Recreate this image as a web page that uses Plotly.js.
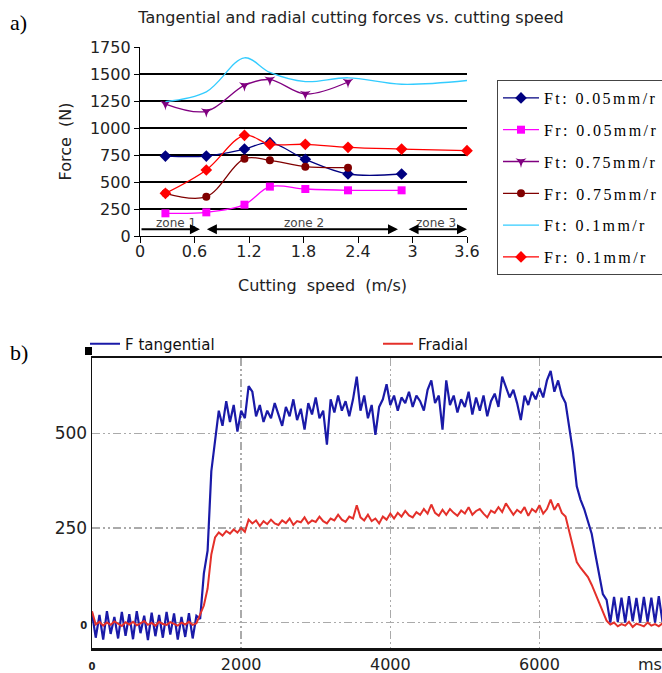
<!DOCTYPE html>
<html><head><meta charset="utf-8">
<script src="https://cdn.plot.ly/plotly-3.0.1.min.js"></script>
<style>
html,body{margin:0;padding:0;background:#fff}
#chart{width:662px;height:673px}
text.legendtext[style*="Liberation Serif"]{letter-spacing:2.4px}
</style>
</head><body><div id="chart"></div>
<script>
// ---------- a) forces vs cutting speed ----------
const speed7 = [0.28, 0.73, 1.15, 1.43, 1.82, 2.29, 2.88];
const speed6 = [0.28, 0.73, 1.15, 1.43, 1.82, 2.29];
const speed8 = [0.28, 0.73, 1.15, 1.43, 1.82, 2.29, 2.88, 3.6];
const ft005 = [740, 740, 805, 864, 710, 574, 574];
const fr005 = [210, 219, 290, 457, 435, 423, 423];
const ft075 = [1222, 1154, 1395, 1448, 1315, 1426];
const fr075 = [395, 364, 716, 701, 642, 633];
const ft01  = [1245, 1335, 1650, 1515, 1430, 1465, 1405, 1440];
const fr01  = [395, 611, 932, 849, 849, 821, 805, 790];
const seriesNames = ["Ft: 0.05mm/r", "Fr: 0.05mm/r", "Ft: 0.75mm/r", "Fr: 0.75mm/r", "Ft: 0.1mm/r", "Fr: 0.1mm/r"];
const speedTicks = [0, 0.6, 1.2, 1.8, 2.4, 3, 3.6];
const forceTicks = [0, 250, 500, 750, 1000, 1250, 1500, 1750];
const forceGrid = [250, 500, 750, 1000, 1250, 1500];
const zoneNames = ["zone 1", "zone 2", "zone 3"];
const zoneCenters = [0.40, 1.81, 3.26];
const zoneStarts = [0, 0.72, 2.94];
const zoneEnds = [0.66, 2.84, 3.6];

// ---------- b) force signal vs time (sampled every 50 ms) ----------
const tStep = 50;
const fTangential = [25,-40,20,-45,30,-30,15,-42,28,-35,22,-44,30,-28,18,-46,26,-36,20,-40,28,-32,24,-45,15,-38,25,-42,18,10,
130,190,400,475,560,520,585,530,575,505,560,540,625,610,545,575,530,560,540,580,550,520,570,545,590,535,565,510,580,550,595,540,560,470,590,555,600,560,585,545,590,650,560,600,540,575,496,570,590,630,575,600,560,595,580,610,570,600,585,560,615,640,580,600,510,640,575,600,555,590,570,610,550,595,560,600,545,585,605,570,650,620,595,615,580,535,600,575,610,590,620,595,640,665,610,640,600,
580,510,450,360,325,300,265,235,180,130,75,60,
0,68,2,66,0,70,3,65,0,68,2,66,0,70,2];
const fRadial = [30,-5,2,-8,0,-6,3,-4,-9,1,-5,2,-7,-2,4,-6,-1,-8,2,-4,-6,1,-3,-8,0,-5,2,-6,-2,
20,45,90,180,225,238,230,242,235,246,238,250,240,272,262,270,255,268,260,272,262,258,270,263,275,258,268,265,278,262,270,266,280,268,262,275,270,285,272,266,280,275,310,278,270,285,268,275,262,280,272,288,275,290,280,295,283,278,292,285,300,288,312,290,282,298,285,300,290,282,296,288,305,285,295,300,288,278,296,290,305,292,315,300,285,298,290,305,282,300,292,310,288,300,325,298,315,290,
280,240,200,160,145,133,120,100,75,50,28,5,
-5,0,-10,-4,-8,2,-12,-3,-6,-10,0,-8,-4,-10,-2];
const timeTicks = [0, 2000, 4000, 6000];
const timeTickText = ['<span style="font-size:10px"><b>0</b></span>', '2000', '4000', '6000'];
const sigTicks = [0, 250, 500];
const sigTickText = ['<span style="font-size:10px"><b>0</b></span>', '250', '500'];

const W = 662, H = 673;
const px = v => v / W;
const py = v => 1 - v / H;
const sans = 'DejaVu Sans';
const serif = 'Liberation Serif';

function topTrace(x, y, name, color, symbol, size, group) {
  const t = {
    x: x, y: y, name: name, type: 'scatter', xaxis: 'x', yaxis: 'y',
    mode: symbol ? 'lines+markers' : 'lines',
    line: {color: color, width: 1.3, shape: 'spline', smoothing: 1},
    legend: 'legend', legendgroup: group, cliponaxis: false
  };
  if (symbol) t.marker = {symbol: symbol, size: size, color: color};
  return t;
}

const data = [
  topTrace(speed7, ft005, seriesNames[0], '#000080', 'diamond', 9, 'g1'),
  topTrace(speed7, fr005, seriesNames[1], '#ff00ff', 'square', 8, 'g2'),
  topTrace(speed6, ft075, seriesNames[2], '#800080', 'star-triangle-down', 8, 'g3'),
  topTrace(speed6, fr075, seriesNames[3], '#800000', 'circle', 8, 'g4'),
  topTrace(speed8, ft01, seriesNames[4], '#33ccff', null, 0, 'g5'),
  topTrace(speed8, fr01, seriesNames[5], '#ff0000', 'diamond', 9, 'g6'),
  {y: fTangential, x0: 0, dx: tStep, type: 'scatter', mode: 'lines', name: 'F tangential',
   xaxis: 'x2', yaxis: 'y2', legend: 'legend2', line: {color: '#1a1aa8', width: 2.2}},
  {y: fRadial, x0: 0, dx: tStep, type: 'scatter', mode: 'lines', name: 'Fradial',
   xaxis: 'x2', yaxis: 'y2', legend: 'legend2', line: {color: '#e4302a', width: 2}}
];

const annotations = [];
annotations.push({xref: 'paper', yref: 'paper', x: px(8), y: py(23), xanchor: 'left', yanchor: 'middle',
  text: 'a)', showarrow: false, font: {family: serif, size: 22, color: '#000'}});
annotations.push({xref: 'paper', yref: 'paper', x: px(8), y: py(352), xanchor: 'left', yanchor: 'middle',
  text: 'b)', showarrow: false, font: {family: serif, size: 22, color: '#000'}});
annotations.push({xref: 'paper', yref: 'paper', x: px(322), y: py(285), xanchor: 'center', yanchor: 'middle',
  text: 'Cutting  speed  (m/s)', showarrow: false, font: {family: sans, size: 16, color: '#222'}});
annotations.push({xref: 'paper', yref: 'paper', x: px(636), y: py(664), xanchor: 'left', yanchor: 'middle',
  text: 'ms', showarrow: false, font: {family: sans, size: 16, color: '#222'}});
for (let i = 0; i < 3; i++) {
  annotations.push({xref: 'x', yref: 'y', x: zoneCenters[i], y: 123, text: zoneNames[i], showarrow: false,
    font: {family: sans, size: 12, color: '#444'}});
  annotations.push({xref: 'x', yref: 'y', axref: 'x', ayref: 'y', x: zoneEnds[i], y: 62, ax: zoneStarts[i], ay: 62,
    text: '', showarrow: true, arrowhead: 2, arrowsize: 1, arrowwidth: 2, arrowcolor: '#000',
    arrowside: i === 0 ? 'end' : 'end+start'});
}

const layout = {
  width: W, height: H, autosize: false,
  margin: {l: 0, r: 0, t: 0, b: 0, autoexpand: false},
  paper_bgcolor: '#fff', plot_bgcolor: '#fff',
  title: {text: 'Tangential and radial cutting forces vs. cutting speed', x: px(351), xanchor: 'center',
    y: py(17), yanchor: 'middle', font: {family: sans, size: 16, color: '#222'}},
  xaxis: {domain: [px(140), px(467)], range: [0, 3.6], anchor: 'y', tickmode: 'array', tickvals: speedTicks,
    showline: true, linecolor: '#000', linewidth: 1.2, ticks: 'outside', ticklen: 6, tickcolor: '#000',
    ticklabelstandoff: -5,
    tickfont: {family: sans, size: 16, color: '#222'}, showgrid: false, zeroline: false},
  yaxis: {domain: [py(236), py(47)], range: [0, 1750], anchor: 'x', tickmode: 'array', tickvals: forceTicks,
    showline: true, linecolor: '#000', linewidth: 1.2, ticks: 'outside', ticklen: 5, tickcolor: '#000',
    tickfont: {family: sans, size: 16, color: '#222'}, showgrid: false, zeroline: false,
    minor: {tickmode: 'array', tickvals: forceGrid, showgrid: true, gridcolor: '#000', gridwidth: 1.2, ticks: ''},
    title: {text: 'Force  (N)', font: {family: sans, size: 16, color: '#222'}, standoff: 14}},
  xaxis2: {domain: [px(92), 1], range: [0, 7643], anchor: 'y2', tickmode: 'array', tickvals: timeTicks, ticktext: timeTickText,
    showline: true, linecolor: '#111', linewidth: 2.2, mirror: true, ticks: '',
    tickfont: {family: sans, size: 16, color: '#222'}, showgrid: true, gridcolor: '#aaaaaa', gridwidth: 1.5,
    griddash: '8px,3px,2px,3px,2px,3px', zeroline: false},
  yaxis2: {domain: [py(648.3), py(357.7)], range: [-68, 700], anchor: 'x2', tickmode: 'array', tickvals: sigTicks, ticktext: sigTickText,
    showline: true, linecolor: '#111', linewidth: 1.5, ticks: '',
    tickfont: {family: sans, size: 17, color: '#222'}, showgrid: true, gridcolor: '#aaaaaa', gridwidth: 1.5,
    griddash: '8px,3px,2px,3px,2px,3px', zeroline: false},
  legend: {x: px(497), y: py(80), xanchor: 'left', yanchor: 'top',
    bordercolor: '#444', borderwidth: 1,
    bgcolor: '#fff', font: {family: serif, size: 16, color: '#000'}, itemwidth: 36, tracegroupgap: 8,
    traceorder: 'grouped'},
  legend2: {x: px(85), y: py(344), xanchor: 'left', yanchor: 'middle', orientation: 'h',
    bgcolor: 'rgba(0,0,0,0)', font: {family: sans, size: 15, color: '#111'}, itemwidth: 30,
    entrywidth: 248, entrywidthmode: 'pixels'},
  shapes: [
    {type: 'rect', xref: 'paper', yref: 'paper', x0: px(85), x1: px(92), y0: py(355), y1: py(347),
     fillcolor: '#000', line: {width: 0}}
  ],
  annotations: annotations,
  showlegend: true
};

Plotly.newPlot('chart', data, layout, {displayModeBar: false, staticPlot: true});
</script></body></html>
